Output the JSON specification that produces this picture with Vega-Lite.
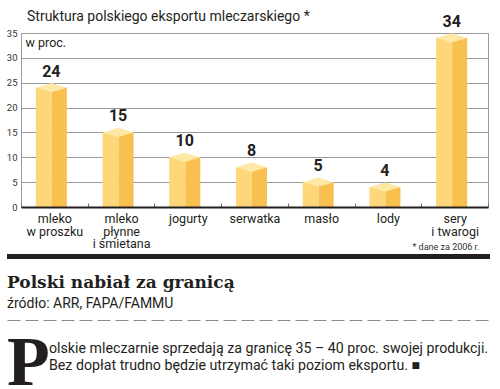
{
  "$schema": "https://vega.github.io/schema/vega-lite/v6.json",
  "padding": {"left": 5, "top": 9, "right": 0, "bottom": 0},
  "background": "white",
  "config": {"font": "Roboto", "view": {"stroke": null}},
  "columns": 1,
  "align": "none",
  "spacing": 2,
  "concat": [
    {
      "width": 467,
      "height": 174,
      "view": {"stroke": "#9a9a9a", "strokeWidth": 1},
      "title": {
        "text": "Struktura polskiego eksportu mleczarskiego *",
        "anchor": "start",
        "frame": "group",
        "fontSize": 14,
        "fontWeight": "normal",
        "color": "#231f20",
        "dx": 6,
        "offset": -10
      },
      "data": {
        "values": [
          {"kategoria": "mleko w proszku", "udzial": 24},
          {"kategoria": "mleko płynne i śmietana", "udzial": 15},
          {"kategoria": "jogurty", "udzial": 10},
          {"kategoria": "serwatka", "udzial": 8},
          {"kategoria": "masło", "udzial": 5},
          {"kategoria": "lody", "udzial": 4},
          {"kategoria": "sery i twarogi", "udzial": 34}
        ]
      },
      "encoding": {
        "x": {
          "field": "kategoria",
          "type": "nominal",
          "sort": null,
          "scale": {"paddingInner": 0, "paddingOuter": 0},
          "axis": {
            "title": "* dane za 2006 r.",
            "titleFontSize": 9,
            "titleFontWeight": "normal",
            "titleColor": "#333333",
            "titleX": 458,
            "titleY": 42,
            "titleAlign": "right",
            "titleBaseline": "alphabetic",
            "labelAngle": 0,
            "labelFontSize": 12.5,
            "labelLineHeight": 12.5,
            "labelPadding": 9.5,
            "labelColor": "#231f20",
            "labelExpr": "datum.value == 'mleko w proszku' ? ['mleko', 'w proszku'] : datum.value == 'mleko płynne i śmietana' ? ['mleko', 'płynne', 'i śmietana'] : datum.value == 'sery i twarogi' ? ['sery', 'i twarogi'] : datum.value",
            "domainColor": "#231f20",
            "domainWidth": 2,
            "tickBand": "extent",
            "tickSize": -4,
            "tickColor": "#777777",
            "tickWidth": 1,
            "zindex": 1
          }
        },
        "y": {
          "field": "udzial",
          "type": "quantitative",
          "scale": {"domain": [0, 35], "nice": false},
          "axis": {
            "values": [0, 5, 10, 15, 20, 25, 30, 35],
            "title": "w proc.",
            "titleAngle": 0,
            "titleX": 4,
            "titleY": 13,
            "titleAlign": "left",
            "titleBaseline": "alphabetic",
            "titleFontSize": 12.5,
            "titleFontWeight": "normal",
            "titleColor": "#231f20",
            "labelFontSize": 9.5,
            "labelColor": "#333333",
            "labelPadding": 4,
            "tickSize": 0,
            "domainColor": "#9a9a9a",
            "grid": true,
            "gridColor": "#9a9a9a",
            "gridOpacity": 1
          }
        }
      },
      "layer": [
        {"mark": {"type": "bar", "width": 16, "xOffset": -10.5, "color": "#fdd779"}},
        {"mark": {"type": "bar", "width": 15, "xOffset": 5, "color": "#f8c14f"}},
        {"mark": {"type": "point", "shape": "M -1 0 L 0 -0.3 L 1 0 L 0 0.3 Z", "size": 961, "filled": true, "color": "#fee8a6", "opacity": 1, "strokeWidth": 0, "xOffset": -3}},
        {
          "mark": {"type": "text", "baseline": "alphabetic", "dy": -11, "xOffset": -3, "fontSize": 16, "fontWeight": "bold", "color": "#231f20"},
          "encoding": {"text": {"field": "udzial", "type": "quantitative"}}
        }
      ]
    },
    {
      "spacing": 15,
      "vconcat": [
        {
          "width": 469,
          "height": 5,
          "data": {"values": [{}]},
          "mark": {"type": "rect", "color": "#231f20"},
          "encoding": {
            "x": {"datum": 0, "type": "quantitative", "scale": {"domain": [0, 483], "range": [-14, 469]}, "axis": null},
            "x2": {"datum": 483}
          }
        },
        {
          "width": 469,
          "height": 66,
          "title": {
            "text": "Polski nabiał za granicą",
            "subtitle": "źródło: ARR, FAPA/FAMMU",
            "anchor": "start",
            "frame": "group",
            "dx": -14,
            "font": "DejaVu Serif",
            "fontSize": 17,
            "fontWeight": "bold",
            "color": "#231f20",
            "subtitleFont": "Roboto",
            "subtitleFontSize": 14,
            "subtitleColor": "#231f20",
            "subtitlePadding": 5,
            "offset": 8
          },
          "data": {
            "values": [
              {"czesc": "inicjał", "tekst": "P"},
              {"czesc": "akapit", "tekst": ["olskie mleczarnie sprzedają za granicę 35 – 40 proc. swojej produkcji.", "Bez dopłat trudno będzie utrzymać taki poziom eksportu. ■"]}
            ]
          },
          "layer": [
            {
              "transform": [{"filter": "datum.czesc == 'inicjał'"}],
              "mark": {"type": "text", "font": "Liberation Serif", "fontWeight": "bold", "fontSize": 70, "align": "left", "baseline": "alphabetic", "dy": 32, "color": "#231f20"},
              "encoding": {
                "x": {"datum": 0, "type": "quantitative", "scale": {"domain": [0, 483], "range": [-14, 469], "nice": false}, "axis": {"orient": "top", "labels": false, "ticks": false, "grid": false, "title": null, "domainColor": "#8a8a8a", "domainDash": [13, 5], "domainWidth": 1}},
                "text": {"field": "tekst", "type": "nominal"}
              }
            },
            {
              "transform": [{"filter": "datum.czesc == 'akapit'"}],
              "mark": {"type": "text", "fontSize": 14.2, "lineHeight": 17, "align": "left", "baseline": "alphabetic", "color": "#231f20"},
              "encoding": {
                "x": {"datum": 42, "type": "quantitative"},
                "text": {"field": "tekst"}
              }
            }
          ]
        }
      ]
    }
  ]
}
